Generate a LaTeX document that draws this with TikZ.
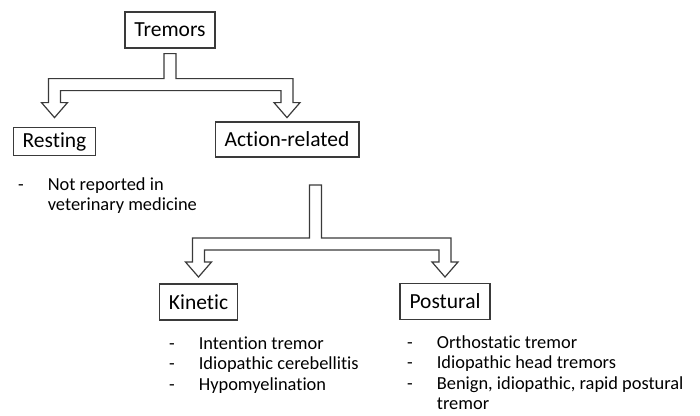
\documentclass[tikz,border=0pt]{standalone}
\usepackage{fontspec}
\setmainfont{Carlito}[Ligatures=NoCommon]
\usepackage{tikz}
\usetikzlibrary{calc,positioning}
\definecolor{linegray}{HTML}{3A3A3A}
\tikzset{
  box/.style={draw=linegray, line width=1.2pt, font=\fontsize{21.5}{24}\selectfont, inner xsep=9.5pt, minimum height=36pt},
  forkline/.style={draw=linegray, line width=1.2pt, line join=miter},
  notes/.style={inner sep=0pt, anchor=base west, font=\fontsize{18.4}{20.5}\selectfont}
}
\newcommand{\forkarrow}[4]{%
  \draw[forkline] let \p1=(#1), \p2=(#2.north), \p3=(#3.north), \p4=($(#1)+(0,#4)$) in
    (\x1-6pt,\y1) -- (\x1-6pt,\y4) -- (\x2-6pt,\y4) -- (\x2-6pt,\y4-24pt)
    -- (\x2-13pt,\y4-24pt) -- (\x2,\y4-39pt) -- (\x2+13pt,\y4-24pt) -- (\x2+6pt,\y4-24pt)
    -- (\x2+6pt,\y4-12pt) -- (\x3-6pt,\y4-12pt) -- (\x3-6pt,\y4-24pt) -- (\x3-13pt,\y4-24pt)
    -- (\x3,\y4-39pt) -- (\x3+13pt,\y4-24pt) -- (\x3+6pt,\y4-24pt) -- (\x3+6pt,\y4)
    -- (\x1+6pt,\y4) -- (\x1+6pt,\y1) -- cycle;}
\begin{document}
\begin{tikzpicture}[x=1pt, y=-1pt]
		\useasboundingbox (0,0) rectangle (700,415);
		\node[box] (tremors) at (170,30) {Tremors};
		\node[box, minimum height=28pt] (resting) at (54.5,141.5) {Resting};
		\node[box, minimum height=35pt] (action) at (287,139.5) {Action-related};
		\node[box] (kinetic) at (198.5,302) {Kinetic};
		\node[box] (postural) at (445,301.5) {Postural};

		\node[notes] (restnotes) at (18,190) {\begin{tabular}[t]{@{}l@{\hspace{24pt}}l@{}}
			- & Not reported in\\
			  & veterinary medicine
		\end{tabular}};
		\node[notes] (kinnotes) at (169,349) {\begin{tabular}[t]{@{}l@{\hspace{24pt}}l@{}}
			- & Intention tremor\\
			- & Idiopathic cerebellitis\\
			- & Hypomyelination
		\end{tabular}};
		\node[notes] (posnotes) at (407,348) {\begin{tabular}[t]{@{}l@{\hspace{24pt}}l@{}}
			- & Orthostatic tremor\\
			- & Idiopathic head tremors\\
			- & Benign, idiopathic, rapid postural\\
			  & tremor
		\end{tabular}};

		\coordinate (fork1) at ($(tremors.south)+(0,5)$);
		\coordinate (fork2) at (315.5,185);
		\forkarrow{fork1}{resting}{action}{25}
		\forkarrow{fork2}{kinetic}{postural}{53}
\end{tikzpicture}
\end{document}
